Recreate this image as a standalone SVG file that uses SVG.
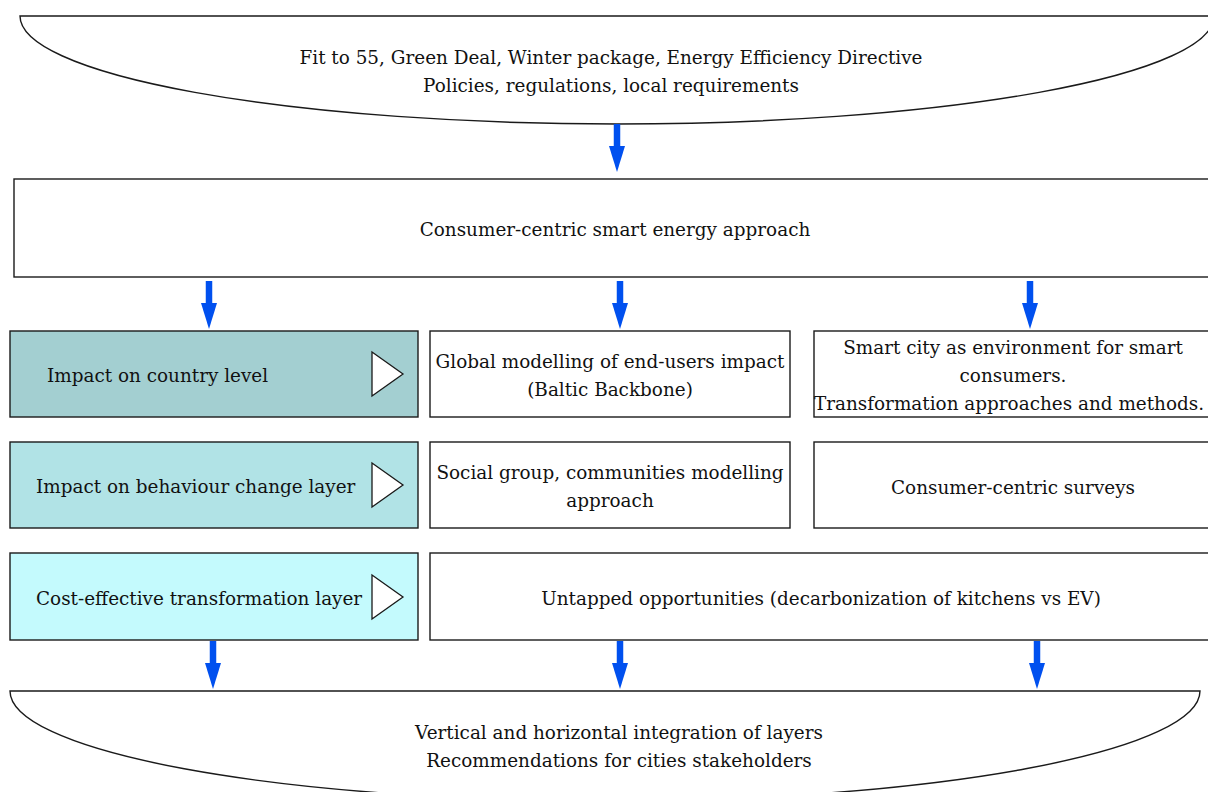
<svg xmlns="http://www.w3.org/2000/svg" width="1208" height="792" viewBox="0 0 1208 792">
<style>
.box{stroke:#1a1a1a;stroke-width:1.4;fill:#fff}
.t{font-family:"DejaVu Serif","Liberation Serif",serif;font-size:18.4px;fill:#111;dominant-baseline:central}
.c{text-anchor:middle}
.tri{fill:#fff;stroke:#1a1a1a;stroke-width:1.3}
.arr{stroke:#0050ef;stroke-width:6.5;fill:none}
.head{fill:#0050ef}
</style>
<defs>
<g id="arrowDown"><line class="arr" x1="0" y1="0" x2="0" y2="24"/><path class="head" d="M-8,22 L8,22 L0,48 Z"/></g>
</defs>
<rect width="1208" height="792" fill="#fff"/>
<g id="top-policies">
<path class="box" d="M20,16 L1214,16 A597,108 0 0 1 20,16 Z"/>
<text class="t c" x="611" y="57">Fit to 55, Green Deal, Winter package, Energy Efficiency Directive</text>
<text class="t c" x="611" y="85">Policies, regulations, local requirements</text>
</g>
<g id="main-approach">
<rect class="box" x="14" y="179" width="1200" height="98"/>
<text class="t c" x="615" y="229">Consumer-centric smart energy approach</text>
</g>
<g id="country-level">
<rect class="box" x="10" y="331" width="408" height="86" style="fill:#a3cfd1"/>
<text class="t" x="47" y="375">Impact on country level</text>
<path class="tri" d="M372,352 L403,374 L372,396 Z"/>
</g>
<g id="global-modelling">
<rect class="box" x="430" y="331" width="360" height="86"/>
<text class="t c" x="610" y="361">Global modelling of end-users impact</text>
<text class="t c" x="610" y="389">(Baltic Backbone)</text>
</g>
<g id="smart-city">
<rect class="box" x="814" y="331" width="400" height="86"/>
<text class="t c" x="1013" y="347">Smart city as environment for smart</text>
<text class="t c" x="1013" y="375">consumers.</text>
<text class="t c" x="1009" y="403">Transformation approaches and methods.</text>
</g>
<g id="behaviour-layer">
<rect class="box" x="10" y="442" width="408" height="86" style="fill:#b1e3e6"/>
<text class="t" x="36" y="486">Impact on behaviour change layer</text>
<path class="tri" d="M372,463 L403,485 L372,507 Z"/>
</g>
<g id="social-group">
<rect class="box" x="430" y="442" width="360" height="86"/>
<text class="t c" x="610" y="472">Social group, communities modelling</text>
<text class="t c" x="610" y="500">approach</text>
</g>
<g id="surveys">
<rect class="box" x="814" y="442" width="400" height="86"/>
<text class="t c" x="1013" y="487">Consumer-centric surveys</text>
</g>
<g id="cost-effective-layer">
<rect class="box" x="10" y="553" width="408" height="87" style="fill:#c4fafd"/>
<text class="t" x="36" y="598">Cost-effective transformation layer</text>
<path class="tri" d="M372,575 L403,597 L372,619 Z"/>
</g>
<g id="untapped">
<rect class="box" x="430" y="553" width="784" height="87"/>
<text class="t c" x="821" y="598">Untapped opportunities (decarbonization of kitchens vs EV)</text>
</g>
<g id="integration">
<path class="box" d="M10,691 L1200,691 A595,110 0 0 1 10,691 Z"/>
<text class="t c" x="619" y="732">Vertical and horizontal integration of layers</text>
<text class="t c" x="619" y="760">Recommendations for cities stakeholders</text>
</g>
<g id="connectors">
<use href="#arrowDown" x="617" y="124"/>
<use href="#arrowDown" x="209" y="281"/>
<use href="#arrowDown" x="620" y="281"/>
<use href="#arrowDown" x="1030" y="281"/>
<use href="#arrowDown" x="213" y="641"/>
<use href="#arrowDown" x="620" y="641"/>
<use href="#arrowDown" x="1037" y="641"/>
</g>
</svg>
